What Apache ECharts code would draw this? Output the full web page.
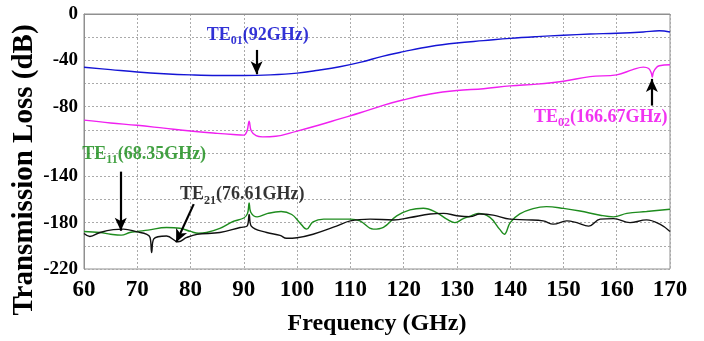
<!DOCTYPE html>
<html>
<head>
<meta charset="utf-8">
<script src="https://cdn.jsdelivr.net/npm/echarts@6/dist/echarts.min.js"></script>
<style>
html, body { margin: 0; padding: 0; background: #fff; }
#chart { width: 704px; height: 341px; }
</style>
</head>
<body>
<div id="chart"></div>
<script>
// [frequency GHz, transmission loss dB]
var te01 = [[60,-46],[65,-48],[70,-50],[75,-51.5],[80,-52.5],[85,-53],[90,-53],[95,-52.5],[100,-51],[104,-48.5],[108,-45.5],[112,-41.5],[116,-36.5],[120,-32.5],[125,-28],[130,-25],[135,-23],[140,-21],[145,-19.5],[150,-18.3],[155,-17.3],[160,-16.6],[165,-15.5],[168,-14.5],[170,-15.5]];
var te02 = [[60,-91.6],[65,-94],[70,-96],[75,-98.5],[80,-101],[85,-103],[88,-104],[90,-104.5],[90.6,-101],[91,-92.5],[91.4,-101],[92.3,-105],[93.5,-106],[96,-105.5],[100,-101],[104,-96],[108,-90.5],[112,-85],[116,-79],[120,-74],[125,-69],[130,-66],[135,-64.5],[140,-62],[145,-60.5],[150,-58],[155,-54],[160,-52.5],[163,-48],[165,-45.8],[166,-47],[166.5,-51],[166.67,-54.4],[166.9,-50],[167.5,-46],[168,-44.6],[170,-43.8]];
var te11 = [[60,-187.6],[63,-188.5],[65,-190],[67,-190.8],[68.6,-188.5],[70,-187.6],[72,-186.5],[75.5,-184.2],[78,-184.8],[80,-187.6],[81.5,-189.2],[83,-188.5],[85.5,-185],[88,-179],[90,-176],[90.7,-172],[91,-163],[91.3,-171],[92.5,-175],[94.5,-172],[97,-170.4],[99,-173],[100.5,-180],[101.8,-185.6],[103,-179.3],[105,-177],[110,-177],[111.8,-178.5],[114.3,-185.6],[116.2,-184],[118.7,-174.2],[121.2,-169],[123.7,-167.6],[126.2,-171.3],[128.1,-177],[129.6,-180],[131.2,-176.5],[132.5,-174.5],[134,-172],[136.2,-175.5],[138,-185.6],[138.9,-190],[140,-180],[141.8,-172.5],[144.3,-167.9],[146.8,-166.2],[150,-167.7],[153.1,-170],[156.9,-173.6],[159.4,-175],[161.9,-172],[165.6,-170.4],[170,-168.4]];
var te21 = [[60,-189.4],[61.1,-191.9],[63,-188.5],[65.5,-186],[67.4,-185.6],[70,-188],[71.8,-190.1],[72.4,-192.8],[72.7,-205.7],[73.1,-194],[75.5,-191.5],[77.7,-196.5],[79.3,-192.8],[81.2,-190.1],[85.5,-188.5],[89.3,-184.2],[90.6,-183],[91,-173],[91.4,-183],[94.3,-188.5],[96.8,-191],[98,-193.5],[100,-193],[103,-190],[107.4,-183],[110,-178.5],[113.7,-177],[118.1,-177.7],[121.2,-175.6],[125,-172.6],[127.5,-172],[130,-174],[132.5,-174.8],[134.3,-172.5],[136.8,-173.5],[140,-177],[143.1,-177.6],[146.2,-178.5],[148.1,-181.3],[150.6,-178.5],[152.5,-180],[154.7,-183],[156.9,-177],[159.4,-176.5],[162.5,-180],[165.6,-177.6],[168.1,-181.3],[170,-187.6]];

var yTickLabels = [0, -40, -80, -140, -180, -220];

// annotations: mode, subscript, text, label position, arrow start/end
var notes = [
    {mode: 'TE', sub: '01', txt: '(92GHz)', pos: [92.6, -18], from: [92.4, -31], to: [92.4, -52], color: '#0000cc'},
    {mode: 'TE', sub: '02', txt: '(166.67GHz)', pos: [157, -89], from: [166.6, -79], to: [166.6, -56], color: '#ee00ee'},
    {mode: 'TE', sub: '11', txt: '(68.35GHz)', pos: [71.3, -121], from: [66.9, -136], to: [66.9, -187], color: '#138a13'},
    {mode: 'TE', sub: '21', txt: '(76.61GHz)', pos: [89.7, -156], from: [80.6, -164], to: [77.3, -197], color: '#000000'}
];

var font = '"Liberation Serif", "Times New Roman", serif';

var myChart = echarts.init(document.getElementById('chart'));

function lineSeries(name, data, color) {
    return {
        name: name,
        type: 'line',
        data: data,
        showSymbol: false,
        smooth: 0.4,
        lineStyle: {color: color, width: 1.4},
        z: 3
    };
}

var labelData = notes.map(function (n) {
    return {
        value: n.pos,
        label: {
            formatter: '{a|' + n.mode + '}{s|' + n.sub + '}{a|' + n.txt + '}',
            rich: {
                a: {fontFamily: font, fontWeight: 'bold', fontSize: 18, color: n.color, lineHeight: 24},
                s: {fontFamily: font, fontWeight: 'bold', fontSize: 12, color: n.color, lineHeight: 12, verticalAlign: 'bottom'}
            }
        }
    };
});

var arrowData = notes.map(function (n) {
    return [{coord: n.from}, {coord: n.to}];
});

var option = {
    animation: false,
    grid: {left: 84, right: 34, top: 14, bottom: 71, show: true, borderColor: '#909090', borderWidth: 1},
    graphic: [{
        type: 'text',
        x: 25,
        y: 170,
        rotation: Math.PI / 2,
        style: {
            text: 'Transmission Loss (dB)',
            font: 'bold 29px ' + font,
            fill: '#000',
            textAlign: 'center',
            textVerticalAlign: 'middle'
        }
    }],
    xAxis: {
        type: 'value',
        min: 60,
        max: 170,
        interval: 10,
        name: 'Frequency (GHz)',
        nameLocation: 'middle',
        nameGap: 43,
        nameTextStyle: {fontFamily: font, fontWeight: 'bold', fontSize: 24, color: '#000'},
        axisLine: {lineStyle: {color: '#909090'}},
        axisTick: {show: false},
        axisLabel: {fontFamily: font, fontWeight: 'bold', fontSize: 23, color: '#000', margin: 10},
        splitLine: {show: true, lineStyle: {color: '#aaa', type: [2, 2], width: 1}}
    },
    yAxis: {
        type: 'value',
        min: -220,
        max: 0,
        interval: 20,
        axisLine: {lineStyle: {color: '#909090'}},
        axisTick: {show: false},
        axisLabel: {
            fontFamily: font, fontWeight: 'bold', fontSize: 19, color: '#000', margin: 6,
            formatter: function (v) { return yTickLabels.indexOf(v) >= 0 ? String(v) : ''; }
        },
        splitLine: {show: true, lineStyle: {color: '#aaa', type: [2, 2], width: 1}}
    },
    series: [
        lineSeries('TE01', te01, '#1515d5'),
        lineSeries('TE02', te02, '#f020f0'),
        lineSeries('TE11', te11, '#1e8c1e'),
        lineSeries('TE21', te21, '#111111'),
        {
            type: 'scatter',
            symbolSize: 0,
            data: labelData,
            label: {show: true, position: 'inside'},
            z: 5,
            markLine: {
                silent: true,
                symbol: ['none', 'arrow'],
                symbolSize: [9, 13],
                label: {show: false},
                lineStyle: {color: '#000', width: 2.2, type: 'solid'},
                data: arrowData
            }
        }
    ]
};
myChart.setOption(option);
</script>
</body>
</html>
